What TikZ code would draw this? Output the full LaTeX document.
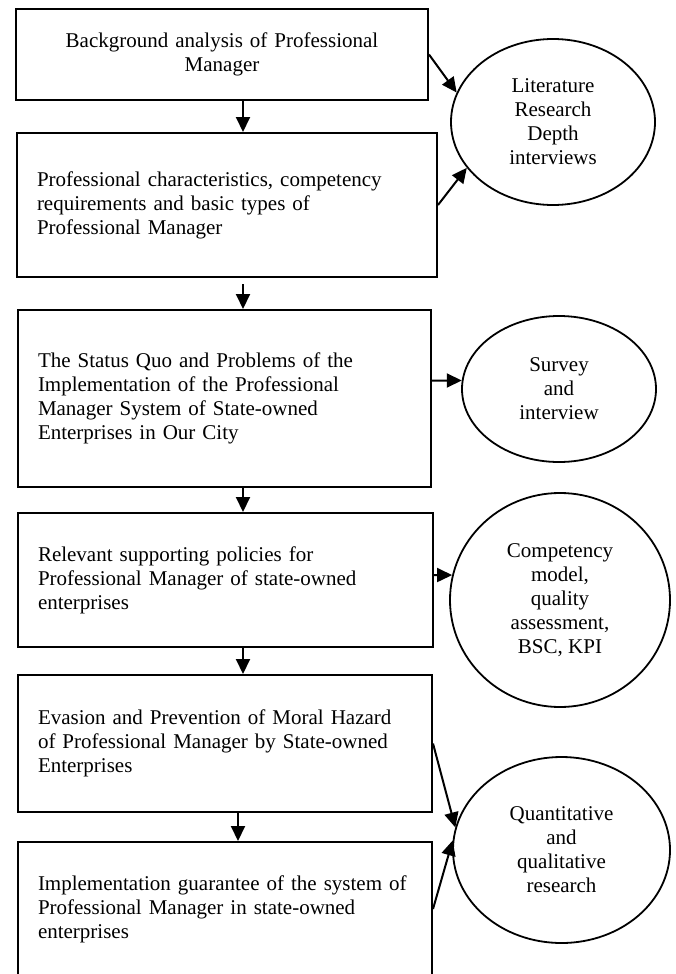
\documentclass[tikz,border=0pt]{standalone}
\usepackage{fontspec}
\setmainfont{Liberation Serif}
\usetikzlibrary{arrows.meta,shapes.geometric}
\begin{document}
\begin{tikzpicture}[x=1pt,y=-1pt,
		every node/.style={font=\fontsize{21}{24}\selectfont},
		stage/.style={draw,line width=2pt,align=left,inner xsep=20pt,inner ysep=0pt},
		method/.style={draw,ellipse,line width=1.8pt,align=center,inner sep=0pt},
		arr/.style={line width=2pt,-{Triangle[length=15pt,width=14pt]}}]
		% the page
		\useasboundingbox (0,0) rectangle (675,974);
		\def\ax{243}
		\def\bx{238}
		
		% the stages, left column
		\node[stage,align=center,text width=372pt,minimum height=91pt] (b1) at (222,54.5) {Background analysis of Professional\\Manager};
		\node[stage,text width=380pt,minimum height=144pt] (b2) at (227,205) {Professional characteristics, competency\\requirements and basic types of\\Professional Manager};
		\node[stage,text width=373pt,minimum height=177pt] (b3) at (224.5,398.5) {The Status Quo and Problems of the\\Implementation of the Professional\\Manager System of State-owned\\Enterprises in Our City};
		\node[stage,text width=375pt,minimum height=134pt] (b4) at (225.5,580) {Relevant supporting policies for\\Professional Manager of state-owned\\enterprises};
		\node[stage,text width=374pt,minimum height=137pt] (b5) at (225,743.5) {Evasion and Prevention of Moral Hazard\\of Professional Manager by State-owned\\Enterprises};
		\node[stage,text width=374pt,minimum height=134pt] (b6) at (225,909) {Implementation guarantee of the system of\\Professional Manager in state-owned\\enterprises};
		
		% the methods, right column
		\node[method,minimum width=204pt,minimum height=166pt] (e1) at (553,122) {Literature\\Research\\Depth\\interviews};
		\node[method,minimum width=194pt,minimum height=146pt] (e2) at (559,389) {Survey\\and\\interview};
		\node[method,minimum width=220pt,minimum height=214pt] (e3) at (560,600) {Competency\\model,\\quality\\assessment,\\BSC, KPI};
		\node[method,minimum width=217pt,minimum height=186pt] (e4) at (561.5,850) {Quantitative\\and\\qualitative\\research};
		
		% down the column
		\coordinate (ax) at (\ax,0);
		\coordinate (bx) at (\bx,0);
		\draw[arr] (b1.south -| ax) -- (b2.north -| ax);
		\draw[arr] ([yshift=-6pt]b2.south -| ax) -- (b3.north -| ax);
		\draw[arr] (b3.south -| ax) -- (b4.north -| ax);
		\draw[arr] (b4.south -| ax) -- (b5.north -| ax);
		\draw[arr] (b5.south -| bx) -- (b6.north -| bx);
		
		% to the methods
		\draw[arr] (b1.east) -- (e1.163);
		\draw[arr] (b2.east) -- (e1.208);
		\draw[arr] ([yshift=18pt]b3.east) -- (e2.175);
		\draw[arr] ([yshift=5pt]b4.east) -- (e3.167);
		\draw[arr] (b5.east) -- (e4.168);
		\draw[arr] (b6.east) -- (e4.175);
		%\draw[help lines] (0,0) grid (675,974);
	\end{tikzpicture}
\end{document}
